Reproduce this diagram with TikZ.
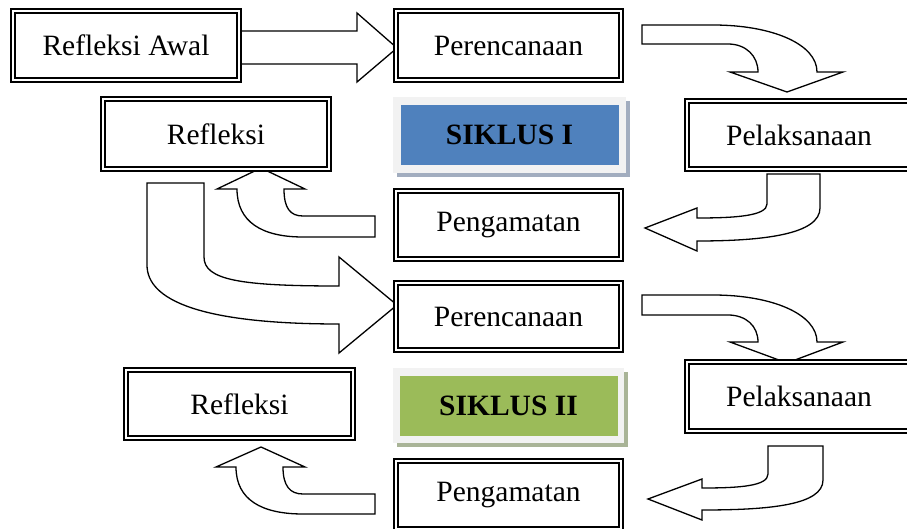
\documentclass[tikz,border=0pt]{standalone}
\usepackage{fontspec}
\setmainfont{Liberation Serif}
\usepackage{xcolor}
\usepackage{tikz}

\definecolor{birusiklus}{HTML}{4F81BD}
\definecolor{hijausiklus}{HTML}{9BBB59}
\definecolor{bingkai}{HTML}{F2F2F2}
\definecolor{bayanganbiru}{HTML}{A2ADBF}
\definecolor{bayanganhijau}{HTML}{A9B497}

\tikzset{
  kotak/.style={draw, double, line width=2pt, double distance=2pt, fill=white, inner sep=0pt},
  panah/.style={draw, line width=1.3pt, fill=white, line join=miter},
  siklus/.style={inner sep=0pt, minimum width=218pt, minimum height=60pt, font=\fontsize{29.5}{35}\selectfont\bfseries}
}

\begin{document}
\begin{tikzpicture}[x=1pt, y=-1pt, font=\fontsize{29.5}{35}\selectfont]
        \useasboundingbox (0,0) rectangle (907,529);

        % Panah lurus: Refleksi Awal -> Perencanaan
        \draw[panah] (240,31) -- (357,31) -- (357,13) -- (397,48) -- (357,82) -- (357,64) -- (240,64) -- cycle;
        % Panah lengkung ke Pelaksanaan (siklus I)
        \draw[panah] (642,25) -- (713,25) .. controls (772,25) and (817,44) .. (817,72) -- (843,72) -- (787,92) -- (730,72) -- (758,72) .. controls (758,56) and (746,44) .. (728,44) -- (642,44) -- cycle;
        % Panah lengkung ke Pengamatan (siklus I)
        \draw[panah] (767,174) -- (820,174) -- (820,208) .. controls (820,234) and (765,241) .. (697,241) -- (697,251) -- (645,228) -- (697,208) -- (697,218) .. controls (735,218) and (767,216) .. (767,204) -- cycle;
        % Panah lengkung ke Refleksi (siklus I)
        \draw[panah] (375,216) -- (303,216) .. controls (290,216) and (284,208) .. (284,189) -- (305,189) -- (261,168) -- (217,189) -- (237,189) .. controls (237,222) and (262,237) .. (303,237) -- (375,237) -- cycle;
        % Panah besar: Refleksi -> Perencanaan (siklus II)
        \draw[panah] (147,183) -- (204,183) -- (204,257) .. controls (204,280) and (240,286) .. (339,286) -- (339,257) -- (397,305) -- (339,353) -- (339,324) .. controls (200,324) and (147,300) .. (147,265) -- cycle;
        % Panah lengkung ke Pelaksanaan (siklus II)
        \draw[panah] (642,295) -- (713,295) .. controls (772,295) and (817,314) .. (817,342) -- (843,342) -- (787,363) -- (730,342) -- (758,342) .. controls (758,326) and (746,315) .. (728,315) -- (642,315) -- cycle;
        % Panah lengkung ke Pengamatan (siklus II)
        \draw[panah] (768,446) -- (823,446) -- (823,480) .. controls (823,505) and (770,510) .. (702,510) -- (702,520) -- (648,499) -- (702,479) -- (702,488) .. controls (740,488) and (768,486) .. (768,474) -- cycle;
        % Panah lengkung ke Refleksi (siklus II)
        \draw[panah] (375,494) -- (303,494) .. controls (290,494) and (283,486) .. (283,467) -- (305,467) -- (261,447) -- (216,467) -- (236,467) .. controls (236,500) and (262,514) .. (303,514) -- (375,514) -- cycle;

        % Kotak siklus I
        \node[kotak, minimum width=226pt, minimum height=69pt] (awal) at (126,45.5) {Refleksi Awal};
        \node[kotak, minimum width=225pt, minimum height=69pt] (rencana1) at (508.5,45.5) {Perencanaan};
        \node[kotak, minimum width=226pt, minimum height=70pt] (refleksi1) at (216,134) {Refleksi};
        \node[kotak, minimum width=224pt, minimum height=68pt] (laksana1) at (799,135) {Pelaksanaan};
        \node[kotak, minimum width=225pt, minimum height=68pt] (amat1) at (508.5,225) {Pengamatan};

        % Kotak siklus II
        \node[kotak, minimum width=225pt, minimum height=67pt] (rencana2) at (508.5,316.5) {Perencanaan};
        \node[kotak, minimum width=224pt, minimum height=69pt] (laksana2) at (799,396.5) {Pelaksanaan};
        \node[kotak, minimum width=227pt, minimum height=68pt] (refleksi2) at (239.5,404) {Refleksi};
        \node[kotak, minimum width=225pt, minimum height=68pt] (amat2) at (508.5,495) {Pengamatan};

        % Label SIKLUS I
        \fill[bayanganbiru] (397,101) rectangle (630,177);
        \fill[bingkai] (393,97) rectangle (626,173);
        \node[siklus, fill=birusiklus] (siklus1) at (509.5,135) {SIKLUS I};

        % Label SIKLUS II
        \fill[bayanganhijau] (397,372) rectangle (628,447);
        \fill[bingkai] (393,368) rectangle (624,443);
        \node[siklus, fill=hijausiklus] (siklus2) at (508.5,406) {SIKLUS II};
    \end{tikzpicture}
\end{document}
